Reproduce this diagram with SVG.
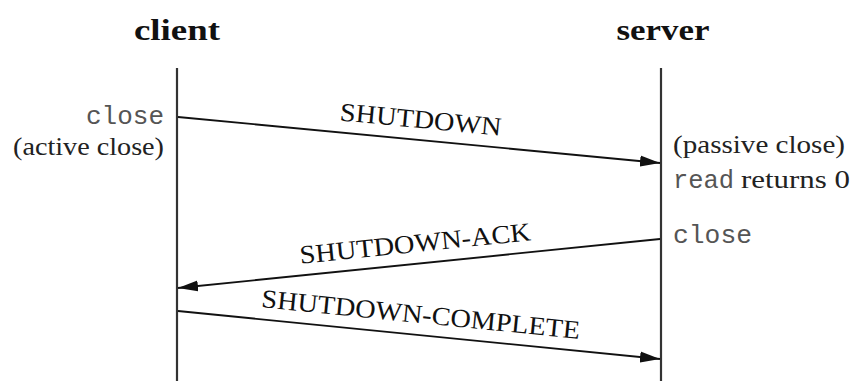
<svg xmlns="http://www.w3.org/2000/svg" width="853" height="381" viewBox="0 0 853 381">
<style>
.title{font-family:"Liberation Serif",serif;font-weight:bold;font-size:30px;fill:#111}
.mono{font-family:"Liberation Mono",monospace;font-size:25px;fill:#555}
.ser{font-family:"Liberation Serif",serif;font-size:25px;fill:#222}
.lbl{font-family:"Liberation Serif",serif;font-size:26px;fill:#111}
.life{stroke:#333;stroke-width:2.2;fill:none}
.msg{stroke:#111;stroke-width:1.8;fill:none;marker-end:url(#ah)}
</style>
<defs>
<marker id="ah" markerUnits="userSpaceOnUse" markerWidth="20" markerHeight="12" refX="20" refY="6" orient="auto">
<path d="M0,0.5 L20,6 L0,11.5 Z" fill="#111"/>
</marker>
</defs>
<rect width="853" height="381" fill="#fff"/>
<g id="client">
<text class="title" x="177" y="40" text-anchor="middle" textLength="86" lengthAdjust="spacingAndGlyphs">client</text>
<line class="life" x1="177" y1="68" x2="177" y2="381"/>
<text class="mono" x="164" y="124" text-anchor="end" textLength="78" lengthAdjust="spacingAndGlyphs">close</text>
<text class="ser" x="164" y="155" text-anchor="end" textLength="151" lengthAdjust="spacingAndGlyphs">(active close)</text>
</g>
<g id="server">
<text class="title" x="663" y="40" text-anchor="middle" textLength="93" lengthAdjust="spacingAndGlyphs">server</text>
<line class="life" x1="661" y1="68" x2="661" y2="381"/>
<text class="ser" x="673" y="153" textLength="172" lengthAdjust="spacingAndGlyphs">(passive close)</text>
<text class="mono" x="673" y="188" textLength="61" lengthAdjust="spacingAndGlyphs">read</text>
<text class="ser" x="741" y="188" textLength="109" lengthAdjust="spacingAndGlyphs">returns 0</text>
<text class="mono" x="673" y="243" textLength="79" lengthAdjust="spacingAndGlyphs">close</text>
</g>
<g id="connectors">
<line class="msg" x1="178" y1="117" x2="660" y2="163"/>
<line class="msg" x1="660" y1="239" x2="178" y2="288"/>
<line class="msg" x1="178" y1="311" x2="660" y2="359"/>
<text class="lbl" transform="translate(420,128) rotate(5.4)" text-anchor="middle" textLength="162" lengthAdjust="spacingAndGlyphs">SHUTDOWN</text>
<text class="lbl" transform="translate(416,252) rotate(-5.8)" text-anchor="middle" textLength="232" lengthAdjust="spacingAndGlyphs">SHUTDOWN-ACK</text>
<text class="lbl" transform="translate(420,323) rotate(5.7)" text-anchor="middle" textLength="320" lengthAdjust="spacingAndGlyphs">SHUTDOWN-COMPLETE</text>
</g>
</svg>
